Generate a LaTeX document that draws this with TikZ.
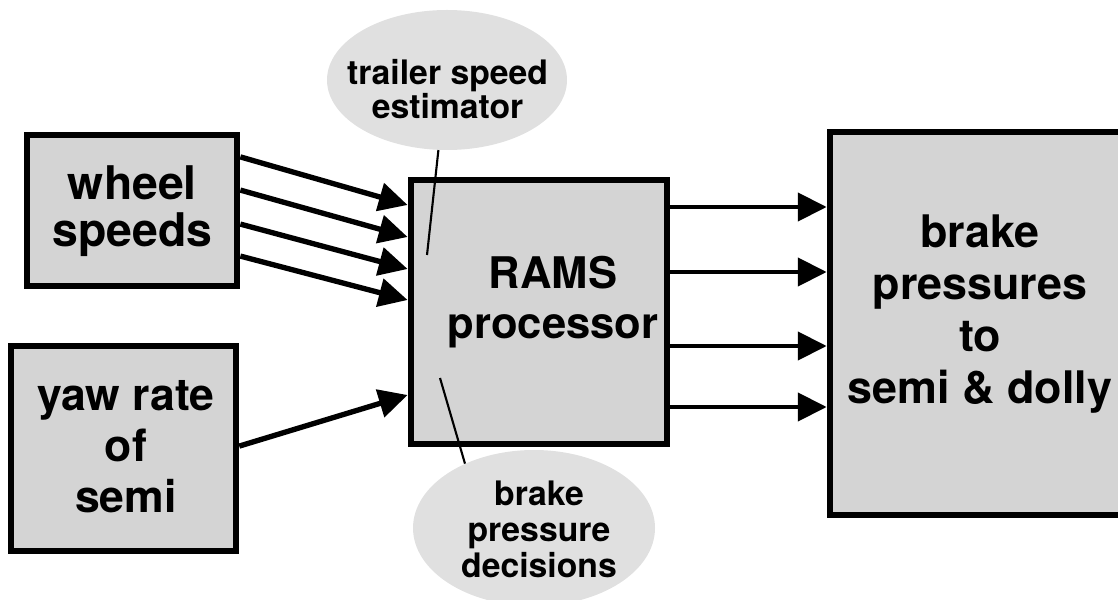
\documentclass[tikz,border=0pt]{standalone}
\usepackage{fontspec}
\setmainfont{TeX Gyre Heros}
\usetikzlibrary{arrows.meta, calc, shapes.geometric}

\begin{document}
\begin{tikzpicture}[
        >={Triangle[length=0.72cm 0 0, width=0.7cm 0 0]},
        blockbox/.style={draw, line width=4.8pt, fill=black!17, inner sep=0pt},
        bubble/.style={ellipse, fill=black!12, inner sep=0pt},
        boxtext/.style={align=center, inner sep=0pt},
        bubbletext/.style={align=center, inner sep=0pt, font=\fontsize{24}{24}\selectfont\bfseries},
        sigarrow/.style={->, line width=3.8pt},
        pointer/.style={line width=1.5pt}
    ]

        % === DEFINITIONS & COORDINATES ===
        \def\picW{27.95}   % Width of the page
        \def\picH{14.975}  % Height of the page
        \clip (0,0) rectangle (\picW,\picH);

        \coordinate (EstTip) at (10.675, 8.6);
        \coordinate (DecTip) at (11.0, 5.525);

        % === 1. BUBBLES ===
        \node[bubble, minimum width=6cm, minimum height=3.5cm] (EstBubble) at (11.175, 12.975) {};
        \node[bubble, minimum width=6.05cm, minimum height=3.9cm] (DecBubble) at (13.35, 1.775) {};

        % === 2. BLOCKS ===
        \node[blockbox, minimum width=5.25cm, minimum height=3.78cm] (Wheel) at (3.3, 9.7125) {};
        \node[blockbox, minimum width=5.62cm, minimum height=5.12cm] (Yaw) at (3.0875, 3.7625) {};
        \node[blockbox, minimum width=6.4cm, minimum height=6.6cm] (Rams) at (13.475, 7.175) {};
        \node[blockbox, minimum width=7.65cm, minimum height=9.57cm] (Brake) at (24.575, 6.8875) {};

        % === 3. SIGNAL ARROWS ===
        \draw[sigarrow] ([yshift=1.34cm]Wheel.east) -- ([yshift=2.675cm]Rams.west);
        \draw[sigarrow] ([yshift=0.51cm]Wheel.east) -- ([yshift=1.875cm]Rams.west);
        \draw[sigarrow] ([yshift=-0.34cm]Wheel.east) -- ([yshift=1.075cm]Rams.west);
        \draw[sigarrow] ([yshift=-1.14cm]Wheel.east) -- ([yshift=0.3cm]Rams.west);
        \draw[sigarrow] ([yshift=0.06cm]Yaw.east) -- ([yshift=-2.075cm]Rams.west);

        \draw[sigarrow, line width=3pt] ([yshift=2.625cm]Rams.east) -- ([yshift=2.625cm]Rams.east -| Brake.west);
        \draw[sigarrow, line width=3pt] ([yshift=1.0cm]Rams.east) -- ([yshift=1.0cm]Rams.east -| Brake.west);
        \draw[sigarrow, line width=3pt] ([yshift=-0.85cm]Rams.east) -- ([yshift=-0.85cm]Rams.east -| Brake.west);
        \draw[sigarrow, line width=3pt] ([yshift=-2.375cm]Rams.east) -- ([yshift=-2.375cm]Rams.east -| Brake.west);

        % === 4. POINTERS ===
        \draw[pointer] (EstBubble.263) -- (EstTip);
        \draw[pointer] (DecTip) -- (DecBubble.137);

        % === 5. LABELS ===
        \node[boxtext, font=\fontsize{33}{33.4}\selectfont\bfseries] (WheelText) at (3.31, 9.69) {wheel\\ speeds};
        \node[boxtext, font=\fontsize{31.7}{36.3}\selectfont\bfseries] (YawText) at (3.15, 3.8) {yaw rate\\ of\\ semi};
        \node[boxtext, font=\fontsize{31}{35.6}\selectfont\bfseries] (RamsText) at (13.825, 7.425) {RAMS\\ processor};
        \node[boxtext, font=\fontsize{31.9}{37}\selectfont\bfseries] (BrakeText) at (24.5, 7.125) {brake\\ pressures\\ to\\ semi \& dolly};
        \node[bubbletext] (EstText) at (11.19, 12.75) {trailer speed\\ estimator};
        \node[bubbletext, font=\fontsize{24}{25.6}\selectfont\bfseries] (DecText) at (13.475, 1.74) {brake\\ pressure\\ decisions};

    \end{tikzpicture}
\end{document}
